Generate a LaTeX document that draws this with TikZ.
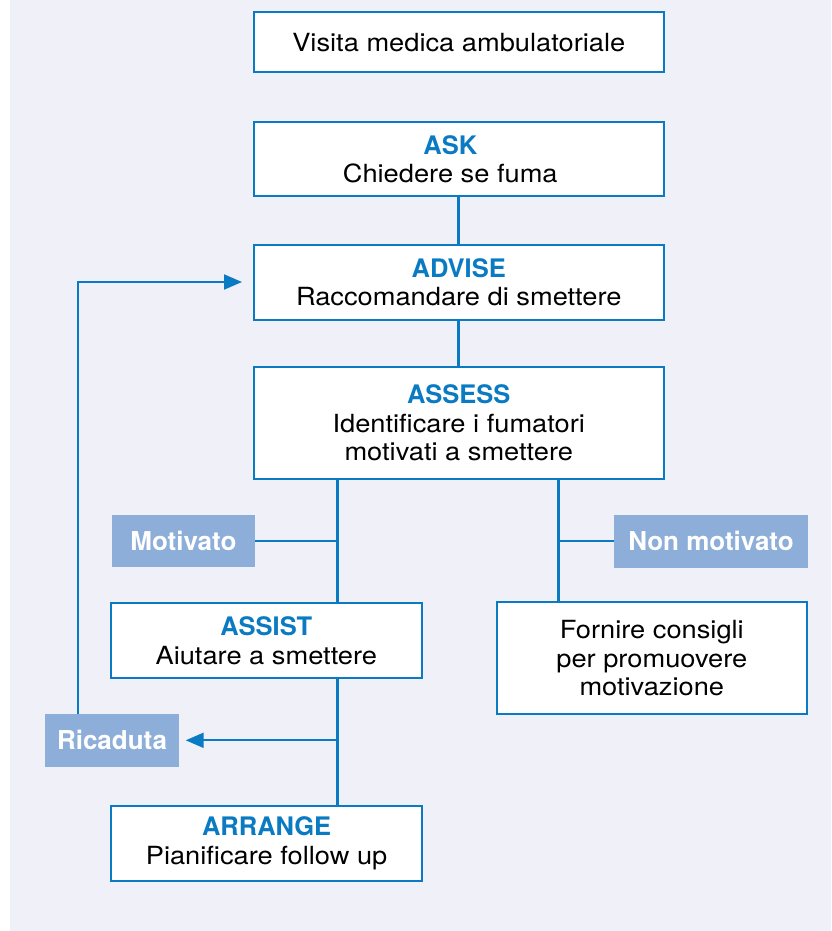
\documentclass[tikz,border=0pt]{standalone}
\usepackage{fontspec}
\setmainfont{TeX Gyre Heros}
\newfontfamily\bodyf{TeX Gyre Heros}[FakeStretch=1.09]
\usetikzlibrary{arrows.meta}
\definecolor{bblue}{RGB}{10,123,194}
\definecolor{lblfill}{RGB}{142,174,218}
\definecolor{bgcol}{RGB}{239,240,248}
\newcommand\hd[1]{{\normalfont\bfseries\fontsize{25.5}{28.5}\selectfont\color{bblue}#1}}
\begin{document}
\begin{tikzpicture}[x=1pt,y=-1pt,
  box/.style={draw=bblue, line width=2pt, fill=white, inner sep=0pt, align=center,
    font=\bodyf\fontsize{25}{28.5}\selectfont},
  lbl/.style={fill=lblfill, text=white, inner sep=0pt,
    font=\bfseries\fontsize{26}{30}\selectfont},
  vline/.style={draw=bblue, line width=3pt},
  hline/.style={draw=bblue, line width=2pt},
  tip/.style={-{Triangle[length=18pt,width=15pt]}}]
\useasboundingbox (0,0) rectangle (831,931);
\fill[bgcol] (10,0) rectangle (831,931);
\coordinate (lx) at (337,0);
\coordinate (rx) at (558.5,0);
\coordinate (fx) at (77.7,0);

\node[box, minimum width=410.5pt, minimum height=60pt] (visita) at (458.75,42.3) {Visita medica ambulatoriale};
\node[box, minimum width=410.5pt, minimum height=74pt] (ask) at (458.75,159.4) {\hd{ASK}\hspace*{17pt}\\Chiedere se fuma\hspace*{17pt}};
\node[box, minimum width=410.5pt, minimum height=75pt] (advise) at (458.75,282) {\hd{ADVISE}\\Raccomandare di smettere};
\node[box, minimum width=410.5pt, minimum height=111.4pt] (assess) at (458.75,423) {\hd{ASSESS}\\Identificare i fumatori\\motivati a smettere};
\node[box, minimum width=310.5pt, minimum height=75pt] (assist) at (266.3,640.5) {\hd{ASSIST}\\Aiutare a smettere};
\node[box, minimum width=309.7pt, minimum height=111.7pt] (fornire) at (651.8,658.2) {Fornire consigli\\per promuovere\\motivazione};
\node[box, minimum width=311pt, minimum height=75pt] (arrange) at (266.6,843.5) {\hd{ARRANGE}\\Pianificare follow up};

\node[lbl, minimum width=142.8pt, minimum height=52pt] (motivato) at (183.4,541.3) {Motivato};
\node[lbl, minimum width=193.4pt, minimum height=52.7pt] (nonmot) at (711,541.3) {Non motivato};
\node[lbl, minimum width=134pt, minimum height=52.7pt] (ricaduta) at (112,740.3) {Ricaduta};

\draw[vline] (ask.south) -- (advise.north);
\draw[vline] (advise.south) -- (assess.north);
\draw[vline] (assess.south -| lx) -- (assist.north -| lx);
\draw[vline] (assist.south -| lx) -- (arrange.north -| lx);
\draw[vline] (assess.south -| rx) -- (fornire.north -| rx);
\draw[hline] (motivato.east) -- (motivato.east -| lx);
\draw[hline] (nonmot.west) -- (nonmot.west -| rx);
\draw[hline, tip, shorten >=6.5pt] (ricaduta.east -| lx) -- (ricaduta.east);
\draw[hline, tip, shorten >=10.5pt] (ricaduta.north -| fx) |- (advise.west);
\end{tikzpicture}
\end{document}
